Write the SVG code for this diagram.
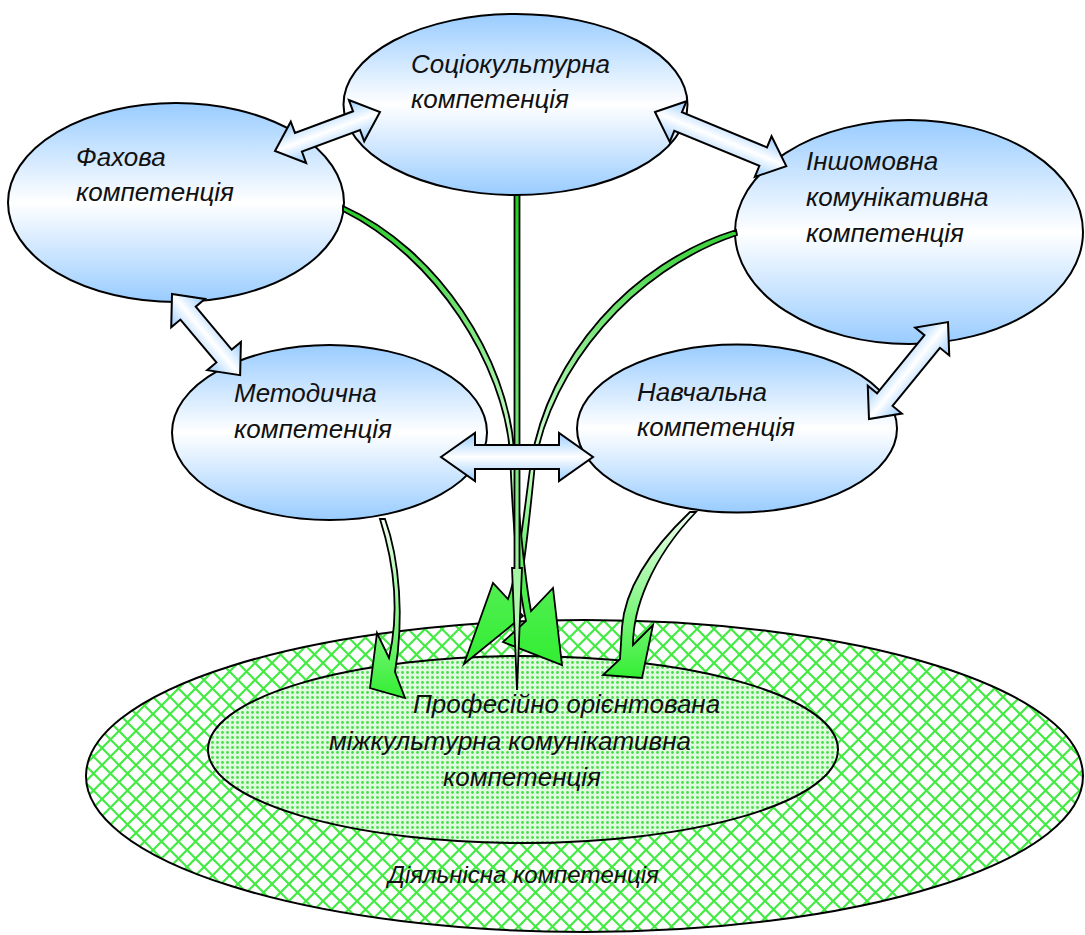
<svg xmlns="http://www.w3.org/2000/svg" width="1085" height="935" viewBox="0 0 1085 935">
<defs>
<style>
.t{font-family:"Liberation Sans",Arial,sans-serif;font-style:italic;font-size:26px;fill:#111}
.s{font-size:24px}
.el{fill:url(#gBlue);stroke:#000;stroke-width:2}
.da{fill:url(#gArr);stroke:#000;stroke-width:2;stroke-linejoin:miter}
.ca{stroke:#000;stroke-width:1.8;stroke-linejoin:miter}
</style>
<linearGradient id="gBlue" x1="0" y1="0" x2="0" y2="1">
<stop offset="0" stop-color="#99ccff"/>
<stop offset="0.5" stop-color="#ffffff"/>
<stop offset="1" stop-color="#99ccff"/>
</linearGradient>
<linearGradient id="gArr" x1="0" y1="0" x2="0" y2="1">
<stop offset="0" stop-color="#99ccff"/>
<stop offset="0.5" stop-color="#ffffff"/>
<stop offset="1" stop-color="#99ccff"/>
</linearGradient>
<linearGradient id="gCenter" gradientUnits="userSpaceOnUse" x1="0" y1="200" x2="0" y2="665">
<stop offset="0" stop-color="#22cc22"/>
<stop offset="0.55" stop-color="#d5ffd5"/>
<stop offset="0.8" stop-color="#55ee55"/>
<stop offset="1" stop-color="#33ee33"/>
</linearGradient>
<linearGradient id="gVert" gradientUnits="userSpaceOnUse" x1="0" y1="195" x2="0" y2="690">
<stop offset="0" stop-color="#22cc22"/>
<stop offset="1" stop-color="#ccffcc"/>
</linearGradient>
<linearGradient id="gLow" x1="0" y1="0" x2="0" y2="1">
<stop offset="0" stop-color="#f0fff0"/>
<stop offset="1" stop-color="#33ee33"/>
</linearGradient>
<pattern id="hatch" patternUnits="userSpaceOnUse" width="17" height="17">
<rect width="17" height="17" fill="#ffffff"/>
<path d="M0,0 L17,17 M17,0 L0,17" stroke="#44ea44" stroke-width="2.2"/>
</pattern>
<pattern id="dots" patternUnits="userSpaceOnUse" width="5" height="5">
<rect width="5" height="5" fill="#e0fbe0"/>
<circle cx="2.5" cy="2.5" r="1.4" fill="#4ade4a"/>
</pattern>
</defs>
<rect width="1085" height="935" fill="#ffffff"/>

<g id="node-diialnisna">
<ellipse cx="584.5" cy="776" rx="498.5" ry="156" fill="url(#hatch)" stroke="#000" stroke-width="2"/>
<text class="t s" x="388" y="883">Діяльнісна компетенція</text>
</g>
<g id="node-profesiino">
<ellipse cx="523" cy="749.5" rx="315" ry="93.5" fill="url(#dots)" stroke="#000" stroke-width="2"/>
<text class="t" x="413" y="713">Професійно орієнтована</text>
<text class="t" x="329" y="750">міжкультурна комунікативна</text>
<text class="t" x="443" y="786">компетенція</text>
</g>
<g id="node-sotsiokulturna">
<ellipse class="el" cx="515.5" cy="104.5" rx="172" ry="90.5"/>
<text class="t" x="411" y="73">Соціокультурна</text>
<text class="t" x="411" y="108">компетенція</text>
</g>
<g id="node-fakhova">
<ellipse class="el" cx="176" cy="202.5" rx="168" ry="99.5"/>
<text class="t" x="76" y="166">Фахова</text>
<text class="t" x="76" y="201">компетенція</text>
</g>
<g id="node-inshomovna">
<ellipse class="el" cx="909" cy="232" rx="174" ry="112"/>
<text class="t" x="806" y="170">Іншомовна</text>
<text class="t" x="806" y="206">комунікативна</text>
<text class="t" x="806" y="242">компетенція</text>
</g>
<g id="node-metodychna">
<ellipse class="el" cx="329.5" cy="432.5" rx="157.5" ry="87.5"/>
<text class="t" x="234" y="402">Методична</text>
<text class="t" x="234" y="438">компетенція</text>
</g>
<g id="node-navchalna">
<ellipse class="el" cx="737" cy="428.5" rx="160" ry="84"/>
<text class="t" x="637" y="401">Навчальна</text>
<text class="t" x="637" y="436">компетенція</text>
</g>

<g id="connectors">
<path class="ca" fill="url(#gCenter)" d="M 736,230 C 630,263 548,358 531,462 C 523,520 518,572 508,599 L 493,583 L 464,664 L 523,616 L 515,608 C 524,575 529,522 535,464 C 551,368 633,270 737,235 Z"/>
<path class="ca" fill="url(#gCenter)" d="M 343,206 C 440,250 508,360 514,450 C 520,530 526,585 531,611 L 553,588 L 562,665 L 503,642 L 526,621 C 518,585 513,530 510,452 C 503,365 437,258 343,211 Z"/>
<path class="ca" fill="url(#gVert)" d="M 514.5,195 L 514.5,568 L 512,568 L 517,690 L 522,568 L 519.5,568 L 519.5,195 Z"/>
<path class="ca" fill="url(#gLow)" d="M 380,519 C 393,560 400,610 389,658 L 377,633 L 370,688 L 405,698 L 395,672 C 404,620 400,560 385,519 Z"/>
<path class="ca" fill="url(#gLow)" d="M 690,512 C 650,550 625,590 622,627 L 620,659 L 603,675 L 642,678 L 653,625 L 633,645 C 633,610 650,560 696,512 Z"/>

<path class="da" transform="translate(275,151) rotate(-20.4)" d="M0,0 L25,-22 L25,-10 L87,-10 L87,-22 L112,0 L87,22 L87,10 L25,10 L25,22 Z"/>
<path class="da" transform="translate(655,112) rotate(22.4)" d="M0,0 L25,-22 L25,-10 L117,-10 L117,-22 L142,0 L117,22 L117,10 L25,10 L25,22 Z"/>
<path class="da" transform="translate(172,294) rotate(50)" d="M0,0 L25,-22 L25,-10 L81,-10 L81,-22 L106,0 L81,22 L81,10 L25,10 L25,22 Z"/>
<path class="da" transform="translate(869,419) rotate(-50.8)" d="M0,0 L25,-22 L25,-10 L100,-10 L100,-22 L125,0 L100,22 L100,10 L25,10 L25,22 Z"/>
<path class="da" transform="translate(441,457)" d="M0,0 L34,-24 L34,-12 L118,-12 L118,-24 L152,0 L118,24 L118,12 L34,12 L34,24 Z"/>
</g>
</svg>
